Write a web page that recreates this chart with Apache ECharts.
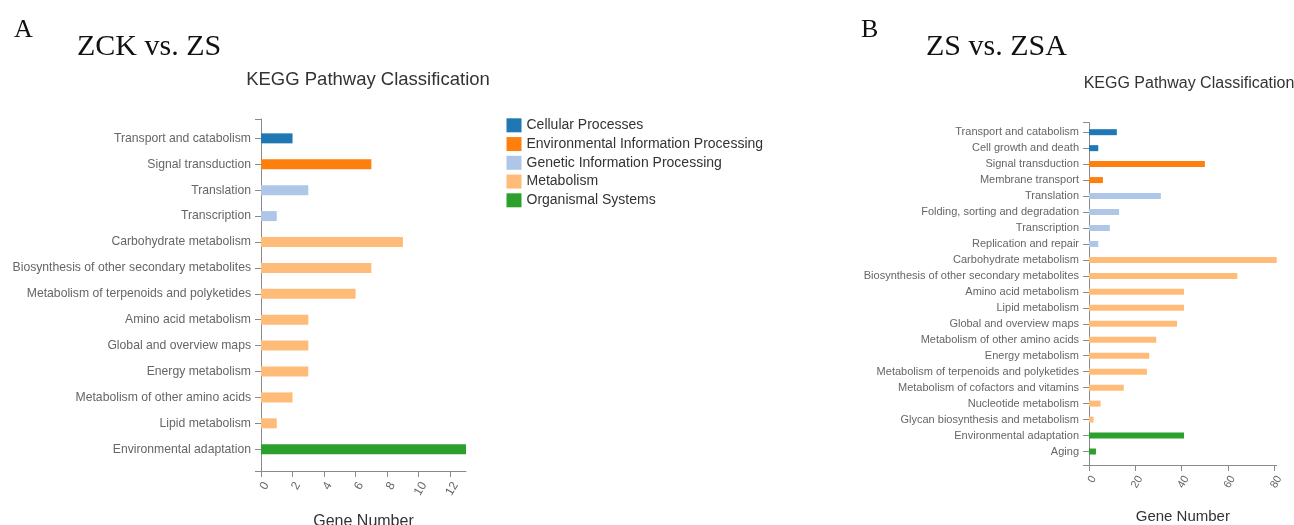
<!DOCTYPE html>
<html>
<head>
<meta charset="utf-8">
<script src="https://cdn.jsdelivr.net/npm/echarts@6/dist/echarts.min.js"></script>
<style>
  html, body { margin: 0; padding: 0; background: #fff; }
  #chart { width: 1294px; height: 525px; }
</style>
</head>
<body>
<div id="chart"></div>
<script>
// KEGG level-1 groups and their colours
const groupNames = ['Cellular Processes', 'Environmental Information Processing',
  'Genetic Information Processing', 'Metabolism', 'Organismal Systems'];
const groupColors = ['#1f77b4', '#ff7f0e', '#aec7e8', '#ffbb78', '#2ca02c'];

// Panel A: ZCK vs. ZS
const catsA = ['Transport and catabolism', 'Signal transduction', 'Translation', 'Transcription',
  'Carbohydrate metabolism', 'Biosynthesis of other secondary metabolites',
  'Metabolism of terpenoids and polyketides', 'Amino acid metabolism', 'Global and overview maps',
  'Energy metabolism', 'Metabolism of other amino acids', 'Lipid metabolism', 'Environmental adaptation'];
const valsA = [2, 7, 3, 1, 9, 7, 6, 3, 3, 3, 2, 1, 13];
const groupA = [0, 1, 2, 2, 3, 3, 3, 3, 3, 3, 3, 3, 4];
const ticksA = { max: 13, interval: 2 };

// Panel B: ZS vs. ZSA
const catsB = ['Transport and catabolism', 'Cell growth and death', 'Signal transduction', 'Membrane transport',
  'Translation', 'Folding, sorting and degradation', 'Transcription', 'Replication and repair',
  'Carbohydrate metabolism', 'Biosynthesis of other secondary metabolites', 'Amino acid metabolism',
  'Lipid metabolism', 'Global and overview maps', 'Metabolism of other amino acids', 'Energy metabolism',
  'Metabolism of terpenoids and polyketides', 'Metabolism of cofactors and vitamins', 'Nucleotide metabolism',
  'Glycan biosynthesis and metabolism', 'Environmental adaptation', 'Aging'];
const valsB = [12, 4, 50, 6, 31, 13, 9, 4, 81, 64, 41, 41, 38, 29, 26, 25, 15, 5, 2, 41, 3];
const groupB = [0, 0, 1, 1, 2, 2, 2, 2, 3, 3, 3, 3, 3, 3, 3, 3, 3, 3, 3, 4, 4];
const ticksB = { max: 81, interval: 20 };

const SANS = '"Liberation Sans", Arial, sans-serif';
const SERIF = '"Liberation Serif", "Times New Roman", serif';
const AXIS_COLOR = '#8a8a8a';
const LABEL_COLOR = '#666';

// Each panel: one grid holding the bars + category labels, and one slightly taller grid
// that carries the axis lines, outer ticks and the value scale.
const panels = [
  { cats: catsA, vals: valsA, groups: groupA, ticks: ticksA, stack: 'A',
    bars: { left: 261, top: 125.4, width: 205, height: 336.8 },
    axes: { left: 261, top: 119, width: 205, height: 352 },
    barWidth: 10, catFont: 12.2, tickFont: 12, nameFont: 16, nameGap: 43 },
  { cats: catsB, vals: valsB, groups: groupB, ticks: ticksB, stack: 'B',
    bars: { left: 1089, top: 124.2, width: 187.7, height: 335.3 },
    axes: { left: 1089, top: 122.7, width: 187.7, height: 342.3 },
    barWidth: 6, catFont: 11, tickFont: 11, nameFont: 15, nameGap: 44 }
];

const grid = [], xAxis = [], yAxis = [], series = [];
panels.forEach((p) => {
  const gBars = grid.length;
  grid.push(Object.assign({ outerBoundsMode: 'none', containLabel: false }, p.bars));
  const gAxes = grid.length;
  grid.push(Object.assign({ outerBoundsMode: 'none', containLabel: false }, p.axes));

  // bar grid axes
  const xBars = xAxis.length;
  xAxis.push({ type: 'value', gridIndex: gBars, min: 0, max: p.ticks.max, show: false });
  const yBars = yAxis.length;
  yAxis.push({
    type: 'category', gridIndex: gBars, data: p.cats, inverse: true,
    axisLine: { show: false },
    axisTick: { show: true, alignWithLabel: true, length: 6, lineStyle: { color: AXIS_COLOR } },
    axisLabel: { margin: 10, fontSize: p.catFont, color: LABEL_COLOR, fontFamily: SANS },
    splitLine: { show: false }
  });

  // axis-frame grid
  xAxis.push({
    type: 'value', gridIndex: gAxes, min: 0, max: p.ticks.max, interval: p.ticks.interval,
    axisLine: { show: true, lineStyle: { color: AXIS_COLOR } },
    axisTick: { show: true, length: 6, lineStyle: { color: AXIS_COLOR } },
    axisLabel: { rotate: 60, margin: 9, fontSize: p.tickFont, color: LABEL_COLOR, fontFamily: SANS,
      verticalAlign: 'top', showMaxLabel: false },
    splitLine: { show: false },
    name: 'Gene Number', nameLocation: 'middle', nameGap: p.nameGap, nameMoveOverlap: false,
    nameTextStyle: { fontSize: p.nameFont, color: '#333', fontFamily: SANS, verticalAlign: 'top' }
  });
  yAxis.push({
    type: 'value', gridIndex: gAxes, min: 0, max: 1, interval: 1,
    axisLine: { show: true, lineStyle: { color: AXIS_COLOR } },
    axisTick: { show: true, length: 6, lineStyle: { color: AXIS_COLOR } },
    axisLabel: { show: false },
    splitLine: { show: false }
  });

  // one bar series per KEGG group so the legend can name the colours
  groupNames.forEach((name, g) => {
    if (!p.groups.includes(g)) return;
    series.push({
      type: 'bar', name: name, stack: p.stack,
      xAxisIndex: xBars, yAxisIndex: yBars,
      barWidth: p.barWidth,
      itemStyle: { color: groupColors[g] },
      emphasis: { disabled: true },
      data: p.vals.map((v, i) => (p.groups[i] === g ? v : null))
    });
  });
});

const option = {
  backgroundColor: '#fff',
  animation: false,
  title: [
    { text: 'A', left: 9, top: 12, textStyle: { fontFamily: SERIF, fontWeight: 'normal', fontSize: 26, color: '#111', lineHeight: 26 } },
    { text: 'ZCK vs. ZS', left: 72, top: 27, textStyle: { fontFamily: SERIF, fontWeight: 'normal', fontSize: 30, color: '#111', lineHeight: 30 } },
    { text: 'B', left: 856, top: 12, textStyle: { fontFamily: SERIF, fontWeight: 'normal', fontSize: 26, color: '#111', lineHeight: 26 } },
    { text: 'ZS vs. ZSA', left: 921, top: 27, textStyle: { fontFamily: SERIF, fontWeight: 'normal', fontSize: 30, color: '#111', lineHeight: 30 } },
    { text: 'KEGG Pathway Classification', left: 363, top: 66, textAlign: 'center',
      textStyle: { fontFamily: SANS, fontWeight: 'normal', fontSize: 18.5, color: '#333', lineHeight: 18 } },
    { text: 'KEGG Pathway Classification', left: 1184, top: 71, textAlign: 'center',
      textStyle: { fontFamily: SANS, fontWeight: 'normal', fontSize: 16, color: '#333', lineHeight: 16 } }
  ],
  legend: {
    data: groupNames, orient: 'vertical', left: 506.5, top: 118.3,
    icon: 'rect', itemWidth: 15, itemHeight: 14, itemGap: 4.75,
    selectedMode: false, padding: 0,
    textStyle: { fontFamily: SANS, fontSize: 14, color: '#333', lineHeight: 14 }
  },
  grid, xAxis, yAxis, series
};

const chart = echarts.init(document.getElementById('chart'), null, { renderer: 'canvas' });
chart.setOption(option);
</script>
</body>
</html>
